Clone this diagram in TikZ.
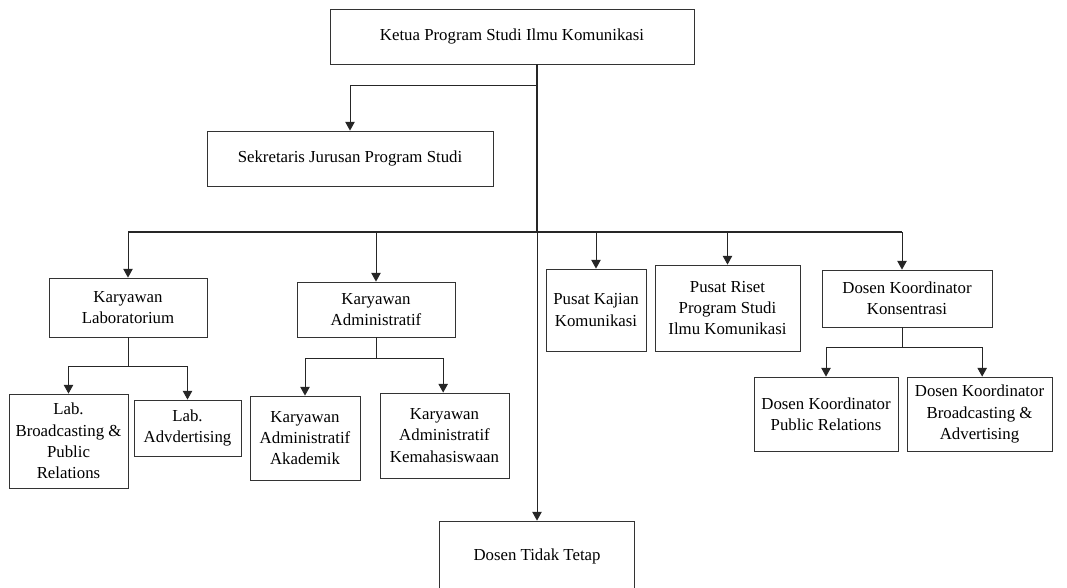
\documentclass[tikz,border=0pt]{standalone}
\usepackage{fontspec}
\setmainfont{Liberation Serif}
\usetikzlibrary{arrows.meta}

\tikzset{
  kotak/.style={draw=black!80, line width=0.6pt, align=center, inner sep=0pt,
    font=\fontsize{12.6}{16}\selectfont},
  garis/.style={draw=black!85, line width=0.75pt},
  panah/.style={garis, -{Triangle[length=6.5pt,width=7pt]}},
}

\begin{document}
\begin{tikzpicture}[x=0.75pt,y=0.75pt,yscale=-1,xscale=1]
\useasboundingbox (0,0) rectangle (1067,587);

%Top level
\node [kotak, minimum width=273pt, minimum height=41.25pt] (ketua) at (512,36.5) {Ketua Program Studi Ilmu Komunikasi};
\node [kotak, minimum width=214.5pt, minimum height=41.25pt] (sekjur) at (350,158.5) {Sekretaris Jurusan Program Studi};

%Second level
\node [kotak, minimum width=118.5pt, minimum height=44.25pt] (lab) at (128,307.5) {Karyawan\\Laboratorium};
\node [kotak, minimum width=118.5pt, minimum height=41.25pt] (admin) at (376,309.5) {Karyawan\\Administratif};
\node [kotak, minimum width=75pt, minimum height=61.5pt] (kajian) at (596,310) {Pusat Kajian\\Komunikasi};
\node [kotak, minimum width=108.75pt, minimum height=64.5pt] (riset) at (727.5,308) {Pusat Riset\\Program Studi\\Ilmu Komunikasi};
\node [kotak, minimum width=127.5pt, minimum height=42.75pt] (konsen) at (907,298.5) {Dosen Koordinator\\Konsentrasi};

%Third level
\node [kotak, minimum width=89.25pt, minimum height=70.5pt] (labbc) at (68.5,441) {Lab.\\Broadcasting \&\\Public\\Relations};
\node [kotak, minimum width=80.25pt, minimum height=42pt] (labadv) at (187.5,428) {Lab.\\Advdertising};
\node [kotak, minimum width=82.5pt, minimum height=63pt] (akademik) at (305,438) {Karyawan\\Administratif\\Akademik};
\node [kotak, minimum width=96.75pt, minimum height=63.75pt] (kemahasiswaan) at (444.5,435.5) {Karyawan\\Administratif\\Kemahasiswaan};
\node [kotak, minimum width=108pt, minimum height=55.5pt] (dosenpr) at (826,414) {Dosen Koordinator\\Public Relations};
\node [kotak, minimum width=108.75pt, minimum height=55.5pt] (dosenba) at (979.5,414) {Dosen Koordinator\\Broadcasting \&\\Advertising};

%Bottom (box runs past the lower edge)
\node [kotak, anchor=base, minimum width=146.25pt, text height=29.25pt, text depth=30pt] (dtt) at (537,560) {Dosen Tidak Tetap};

%Branch points
\coordinate (trunk) at (537,64);
\coordinate (cabsek) at (537,85);
\coordinate (cabutama) at (537,232);
\coordinate (cablab) at (128,366);
\coordinate (cabadmin) at (376,358);
\coordinate (cabkonsen) at (902,347);

%Connectors
\draw [garis, line width=1.5pt] (trunk) -- (cabutama);
\draw [panah] (cabutama) -- (cabutama |- dtt.north);
\draw [panah] (cabsek) -| (sekjur.north);
\draw [garis, line width=1.1pt] (cabutama -| lab.north) -- (cabutama -| 902,0);
\draw [panah] (cabutama) -| (lab.north);
\draw [panah] (cabutama) -| (admin.north);
\draw [panah] (cabutama) -| (kajian.north);
\draw [panah] (cabutama) -| (riset.north);
\draw [panah] (cabutama) -| ([xshift=-3.75pt]konsen.north);

\draw [garis] (lab.south) -- (cablab);
\draw [panah] (cablab) -| (labbc.north);
\draw [panah] (cablab) -| (labadv.north);

\draw [garis] (admin.south) -- (cabadmin);
\draw [panah] (cabadmin) -| (akademik.north);
\draw [panah] (cabadmin) -| ([xshift=-1pt]kemahasiswaan.north);

\draw [garis] ([xshift=-3.75pt]konsen.south) -- (cabkonsen);
\draw [panah] (cabkonsen) -| (dosenpr.north);
\draw [panah] (cabkonsen) -| ([xshift=2pt]dosenba.north);

\end{tikzpicture}
\end{document}
